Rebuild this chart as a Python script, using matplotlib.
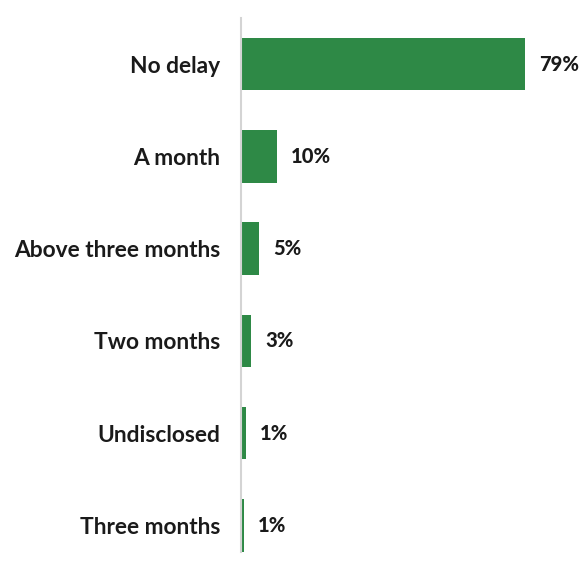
import matplotlib.pyplot as plt

# delay categories, top to bottom, and their share of respondents (%)
categories = ['No delay', 'A month', 'Above three months', 'Two months',
              'Undisclosed', 'Three months']
shares = [79, 10, 5, 2.8, 1.3, 0.7]

bar_color = '#2e8946'

plt.rcParams['font.family'] = ['Lato', 'DejaVu Sans']

fig = plt.figure(figsize=(5.82, 5.61), dpi=100)
ax = fig.add_axes([241 / 582, 9 / 561, 320 / 582, 534 / 561])

ypos = list(range(len(categories)))
ax.barh(ypos, shares, height=0.57, color=bar_color, linewidth=0)

for y, v in zip(ypos, shares):
    ax.annotate(f'{v:.0f}%', xy=(v, y), xytext=(10, 0), textcoords='offset points',
                va='center', ha='left', fontsize=14.5, fontweight='black', color='#1a1a1a')

ax.set_yticks(ypos)
ax.set_yticklabels(categories, fontsize=16.4, fontweight='bold', color='#1a1a1a')
ax.tick_params(axis='y', length=0, pad=15)
ax.set_xticks([])
ax.set_xlim(0, 89)
ax.set_ylim(5.29, -0.5)

for side in ['top', 'right', 'bottom']:
    ax.spines[side].set_visible(False)
ax.spines['left'].set_color('#d4d4d4')
ax.spines['left'].set_linewidth(1.5)

fig.savefig('out.png', dpi=100)
